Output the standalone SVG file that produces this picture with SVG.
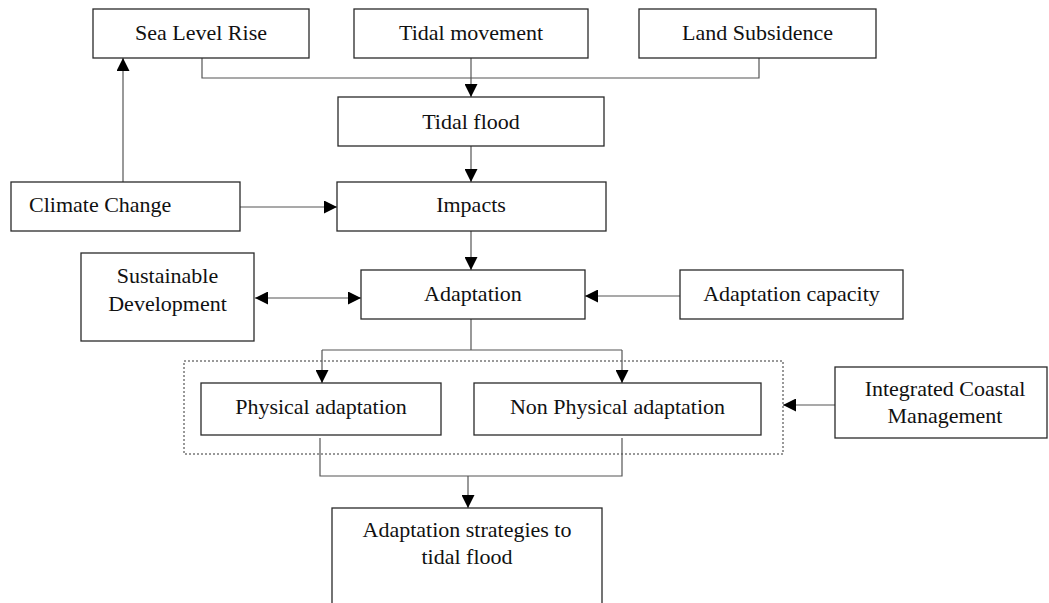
<svg xmlns="http://www.w3.org/2000/svg" width="1049" height="603" viewBox="0 0 1049 603">
  <style>
    .box { fill: #ffffff; stroke: #2a2a2a; stroke-width: 1.3; }
    .label { font-family: "Liberation Serif", "Times New Roman", serif; font-size: 22px; fill: #111111; text-anchor: middle; }
    .link { fill: none; stroke: #555555; stroke-width: 1.2; }
    .group-frame { fill: none; stroke: #333333; stroke-width: 1; stroke-dasharray: 2 2; }
  </style>
  <defs>
    <marker id="arrow" markerUnits="userSpaceOnUse" markerWidth="14" markerHeight="13" refX="13" refY="6.5" orient="auto-start-reverse">
      <path d="M0,0 L13,6.5 L0,13 z" fill="#000000"/>
    </marker>
  </defs>
  <rect width="1049" height="603" fill="#ffffff"/>

  <!-- dashed frame around the two adaptation types -->
  <rect id="adaptation-types-frame" class="group-frame" x="184" y="361" width="599" height="93"/>

  <!-- connectors -->
  <g id="connectors">
    <!-- drivers merging into tidal flood -->
    <path class="link" d="M202,58 V78 H759 V58"/>
    <path class="link" d="M471,58 V97" marker-end="url(#arrow)"/>
    <!-- climate change to sea level rise -->
    <path class="link" d="M123,182 V58" marker-end="url(#arrow)"/>
    <!-- tidal flood to impacts -->
    <path class="link" d="M471,146 V182" marker-end="url(#arrow)"/>
    <!-- climate change to impacts -->
    <path class="link" d="M240,207 H337" marker-end="url(#arrow)"/>
    <!-- impacts to adaptation -->
    <path class="link" d="M471,231 V270" marker-end="url(#arrow)"/>
    <!-- sustainable development to adaptation (both ways) -->
    <path class="link" d="M255,298 H361" marker-start="url(#arrow)" marker-end="url(#arrow)"/>
    <!-- adaptation capacity to adaptation -->
    <path class="link" d="M680,296 H585" marker-end="url(#arrow)"/>
    <!-- adaptation splitting into the two types -->
    <path class="link" d="M471,319 V350 M322,350 H622"/>
    <path class="link" d="M322,350 V383" marker-end="url(#arrow)"/>
    <path class="link" d="M622,350 V383" marker-end="url(#arrow)"/>
    <!-- integrated coastal management to the adaptation types -->
    <path class="link" d="M835,405 H783" marker-end="url(#arrow)"/>
    <!-- adaptation types merging into strategies -->
    <path class="link" d="M320,438 V476 H622 V438"/>
    <path class="link" d="M468,476 V508" marker-end="url(#arrow)"/>
  </g>

  <g id="sea-level-rise">
    <rect class="box" x="93" y="9" width="216" height="49"/>
    <text class="label" x="201" y="40">Sea Level Rise</text>
  </g>
  <g id="tidal-movement">
    <rect class="box" x="354" y="9" width="234" height="49"/>
    <text class="label" x="471" y="40">Tidal movement</text>
  </g>
  <g id="land-subsidence">
    <rect class="box" x="639" y="9" width="237" height="49"/>
    <text class="label" x="757.5" y="40">Land Subsidence</text>
  </g>
  <g id="tidal-flood">
    <rect class="box" x="338" y="97" width="266" height="49"/>
    <text class="label" x="471" y="129">Tidal flood</text>
  </g>
  <g id="climate-change">
    <rect class="box" x="11" y="182" width="229" height="49"/>
    <text class="label" x="29" y="212" style="text-anchor:start">Climate Change</text>
  </g>
  <g id="impacts">
    <rect class="box" x="337" y="182" width="269" height="49"/>
    <text class="label" x="471" y="212">Impacts</text>
  </g>
  <g id="sustainable-development">
    <rect class="box" x="81" y="253" width="173" height="88"/>
    <text class="label" x="167.5" y="283">Sustainable</text>
    <text class="label" x="167.5" y="311">Development</text>
  </g>
  <g id="adaptation">
    <rect class="box" x="361" y="270" width="224" height="49"/>
    <text class="label" x="473" y="301">Adaptation</text>
  </g>
  <g id="adaptation-capacity">
    <rect class="box" x="680" y="270" width="223" height="49"/>
    <text class="label" x="791.5" y="301">Adaptation capacity</text>
  </g>
  <g id="physical-adaptation">
    <rect class="box" x="201" y="383" width="240" height="52"/>
    <text class="label" x="321" y="414">Physical adaptation</text>
  </g>
  <g id="non-physical-adaptation">
    <rect class="box" x="474" y="383" width="287" height="52"/>
    <text class="label" x="617.5" y="414">Non Physical adaptation</text>
  </g>
  <g id="integrated-coastal-management">
    <rect class="box" x="835" y="367" width="212" height="71"/>
    <text class="label" x="945" y="396">Integrated Coastal</text>
    <text class="label" x="945" y="423">Management</text>
  </g>
  <g id="adaptation-strategies">
    <rect class="box" x="332" y="508" width="270" height="110"/>
    <text class="label" x="467" y="537">Adaptation strategies to</text>
    <text class="label" x="467" y="564">tidal flood</text>
  </g>
</svg>
